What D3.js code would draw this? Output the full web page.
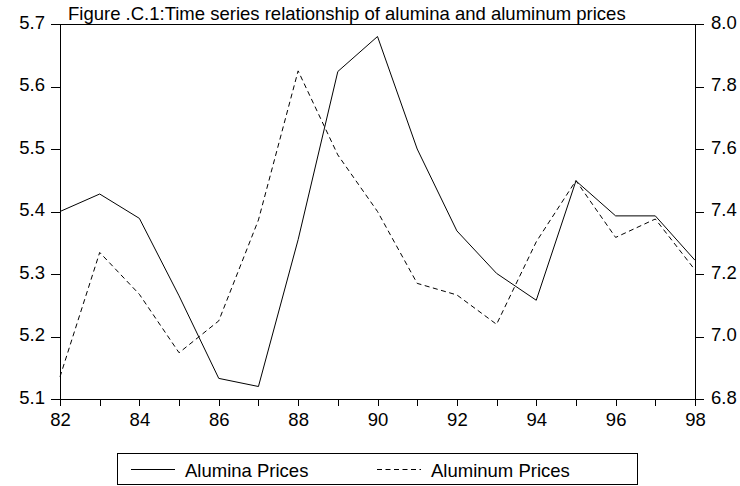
<!DOCTYPE html>
<html>
  <head>
    <meta charset="utf-8">
    <script src="https://cdn.jsdelivr.net/npm/d3@7"></script>
    <style>
      body { margin: 0; background: #fff; }
      svg { display: block; }
      text { font-family: "Liberation Sans", Arial, sans-serif; fill: #000; }
      .axis path { display: none; }
      .axis line { stroke: #000; shape-rendering: crispEdges; }
      .axis text { font-size: 18.5px; }
    </style>
  </head>
  <body>
    <script>
      // data
      var years = [82, 83, 84, 85, 86, 87, 88, 89, 90, 91, 92, 93, 94, 95, 96, 97, 98];
      var alumina = [5.400, 5.428, 5.389, 5.265, 5.133, 5.120, 5.355, 5.624, 5.680, 5.500,
                     5.369, 5.301, 5.258, 5.449, 5.393, 5.393, 5.322];
      var aluminum = [6.871, 7.269, 7.135, 6.948, 7.050, 7.373, 7.850, 7.581, 7.400, 7.170,
                      7.133, 7.039, 7.303, 7.499, 7.317, 7.376, 7.213];
      var leftTicks = [5.1, 5.2, 5.3, 5.4, 5.5, 5.6, 5.7];
      var rightTicks = [6.8, 7.0, 7.2, 7.4, 7.6, 7.8, 8.0];
      var seriesNames = ["Alumina Prices", "Aluminum Prices"];
      var title = "Figure .C.1:Time series relationship of alumina and aluminum prices";

      var width = 740, height = 486;
      var plotLeft = 60, plotRight = 695, plotTop = 24, plotBottom = 399;

      var svg = d3.select("body").append("svg")
        .attr("width", width)
        .attr("height", height);

      var x = d3.scaleLinear().domain([82, 98]).range([plotLeft, plotRight]);
      var yL = d3.scaleLinear().domain([5.1, 5.7]).range([plotBottom, plotTop]);
      var yR = d3.scaleLinear().domain([6.8, 8.0]).range([plotBottom, plotTop]);

      // x axis, a tick every year, labels on even years
      svg.append("g")
        .attr("class", "axis")
        .attr("transform", "translate(0," + plotBottom + ")")
        .call(d3.axisBottom(x)
          .tickValues(years)
          .tickSize(7)
          .tickPadding(7)
          .tickFormat(function(d) { return d % 2 === 0 ? d : ""; }));

      // left axis
      svg.append("g")
        .attr("class", "axis")
        .attr("transform", "translate(" + plotLeft + ",0)")
        .call(d3.axisLeft(yL)
          .tickValues(leftTicks)
          .tickSize(9)
          .tickPadding(6)
          .tickFormat(d3.format(".1f")))
        .selectAll("text").attr("dy", "0.22em");

      // right axis
      svg.append("g")
        .attr("class", "axis")
        .attr("transform", "translate(" + plotRight + ",0)")
        .call(d3.axisRight(yR)
          .tickValues(rightTicks)
          .tickSize(9)
          .tickPadding(7)
          .tickFormat(d3.format(".1f")))
        .selectAll("text").attr("dy", "0.22em");

      // frame
      svg.append("rect")
        .attr("x", plotLeft)
        .attr("y", plotTop)
        .attr("width", plotRight - plotLeft)
        .attr("height", plotBottom - plotTop)
        .attr("fill", "none")
        .attr("stroke", "#000")
        .attr("shape-rendering", "crispEdges");

      var lineL = d3.line()
        .x(function(d, i) { return x(years[i]); })
        .y(function(d) { return yL(d); });

      var lineR = d3.line()
        .x(function(d, i) { return x(years[i]); })
        .y(function(d) { return yR(d); });

      svg.append("path")
        .datum(alumina)
        .attr("d", lineL)
        .attr("fill", "none")
        .attr("stroke", "#000")
        .attr("stroke-width", 1);

      svg.append("path")
        .datum(aluminum)
        .attr("d", lineR)
        .attr("fill", "none")
        .attr("stroke", "#000")
        .attr("stroke-width", 1)
        .attr("stroke-dasharray", "5,3.5");

      // title
      svg.append("text")
        .attr("x", 68)
        .attr("y", 20)
        .style("font-size", "18.5px")
        .text(title);

      // legend
      var legend = svg.append("g");
      legend.append("rect")
        .attr("x", 117.5)
        .attr("y", 453.5)
        .attr("width", 520)
        .attr("height", 31)
        .attr("fill", "none")
        .attr("stroke", "#000")
        .attr("stroke-width", 1);

      var items = [{x: 131, dash: null}, {x: 377, dash: "5,3.5"}];
      items.forEach(function(it, i) {
        legend.append("line")
          .attr("x1", it.x)
          .attr("x2", it.x + 44)
          .attr("y1", 469.5)
          .attr("y2", 469.5)
          .attr("stroke", "#000")
          .attr("stroke-dasharray", it.dash);
        legend.append("text")
          .attr("x", it.x + 54)
          .attr("y", 476.5)
          .style("font-size", "18.5px")
          .text(seriesNames[i]);
      });
    </script>
  </body>
</html>
